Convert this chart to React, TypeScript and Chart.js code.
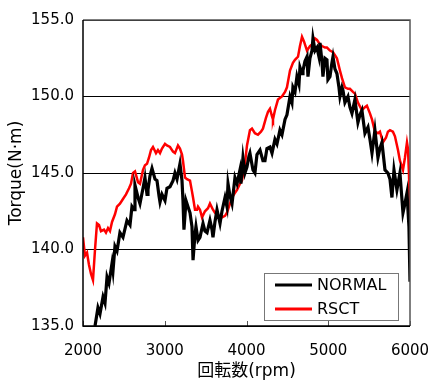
import React, { useEffect, useRef } from "react";
import { Chart, registerables } from "chart.js";

Chart.register(...registerables);

const xTicks = [2000, 3000, 4000, 5000, 6000];
const yTicks = [135, 140, 145, 150, 155];

const normalRpm = [
  2147, 2183, 2208, 2245, 2269, 2294, 2318, 2355, 2367, 2391, 2416, 2452, 2489, 2538, 2575, 2599, 2624, 2636, 2673, 2697,
  2734, 2758, 2783, 2795, 2819, 2844, 2881, 2905, 2930, 2942, 2966, 3003, 3027, 3064, 3101, 3125, 3150, 3186, 3211, 3223,
  3235, 3260, 3284, 3309, 3333, 3346, 3370, 3382, 3407, 3431, 3468, 3492, 3517, 3553, 3578, 3590, 3614, 3639, 3676, 3700,
  3737, 3761, 3774, 3798, 3823, 3859, 3884, 3920, 3932, 3957, 3981, 4006, 4030, 4042, 4079, 4103, 4128, 4165, 4201, 4226,
  4250, 4287, 4312, 4348, 4373, 4409, 4434, 4471, 4495, 4532, 4556, 4568, 4593, 4617, 4642, 4654, 4679, 4691, 4715, 4740,
  4752, 4776, 4801, 4813, 4838, 4862, 4886, 4899, 4923, 4935, 4960, 4984, 4996, 5021, 5045, 5058, 5082, 5106, 5131, 5143,
  5168, 5180, 5204, 5241, 5265, 5290, 5326, 5363, 5388, 5412, 5449, 5486, 5510, 5535, 5571, 5608, 5632, 5657, 5694, 5730,
  5755, 5779, 5804, 5840, 5877, 5914, 5938, 5963, 5987, 6000,
];
const normalTorque = [
  135.0, 136.2, 135.8, 136.9, 136.5, 138.2, 137.8, 139.1, 138.6, 140.2, 139.9, 141.1, 140.8, 141.9, 141.6, 142.8, 142.6, 144.2, 143.4, 143.0,
  144.0, 144.7, 143.6, 143.9, 144.8, 145.3, 144.6, 144.5, 143.5, 143.1, 143.6, 143.2, 144.0, 144.1, 144.5, 145.0, 144.6, 145.6, 144.5, 143.2,
  141.3, 143.2, 142.8, 142.4, 141.5, 139.3, 141.0, 141.5, 140.6, 140.8, 141.7, 141.2, 141.1, 141.9, 141.3, 140.8, 141.8, 142.6, 141.7, 142.5,
  143.4, 142.8, 144.3, 143.5, 143.0, 144.7, 144.3, 145.2, 144.3, 146.0, 145.0, 145.4, 146.1, 146.3, 145.2, 145.0, 146.2, 146.5, 145.8, 145.8,
  146.6, 146.7, 146.3, 147.2, 146.9, 147.8, 147.5, 148.5, 148.8, 150.0, 149.6, 150.6, 150.3, 151.3, 150.8, 151.9, 151.5, 151.7, 152.3, 152.6,
  151.3, 152.5, 153.0, 153.8, 153.0, 153.2, 152.6, 153.5, 152.3, 151.3, 152.5, 152.4, 151.1, 151.3, 152.2, 152.6, 151.8, 151.5, 150.6, 150.0,
  150.6, 150.4, 149.6, 150.0, 149.3, 148.9, 149.8, 148.3, 148.8, 149.1, 147.6, 148.0, 147.2, 146.3, 147.8, 146.0, 146.6, 147.0, 145.2, 145.0,
  144.6, 143.4, 145.2, 143.9, 145.0, 142.4, 143.0, 143.7, 141.5, 137.9,
];

const rsctRpm = [
  2000, 2024, 2049, 2073, 2098, 2122, 2147, 2171, 2196, 2220, 2257, 2281, 2306, 2330, 2355, 2391, 2416, 2452, 2489, 2526,
  2563, 2587, 2612, 2636, 2673, 2697, 2734, 2758, 2783, 2807, 2832, 2856, 2893, 2917, 2942, 2966, 3003, 3027, 3064, 3101,
  3125, 3162, 3186, 3211, 3223, 3248, 3272, 3309, 3333, 3346, 3370, 3395, 3407, 3431, 3456, 3492, 3529, 3553, 3590, 3614,
  3651, 3700, 3737, 3761, 3798, 3823, 3859, 3884, 3920, 3945, 3969, 3981, 4006, 4042, 4067, 4103, 4140, 4177, 4201, 4238,
  4263, 4287, 4312, 4324, 4348, 4385, 4434, 4471, 4495, 4532, 4568, 4593, 4630, 4654, 4679, 4703, 4740, 4776, 4801, 4838,
  4862, 4899, 4923, 4960, 4984, 5021, 5058, 5082, 5106, 5143, 5168, 5204, 5241, 5265, 5302, 5326, 5363, 5412, 5449, 5473,
  5510, 5535, 5571, 5608, 5632, 5669, 5706, 5730, 5755, 5791, 5816, 5853, 5877, 5914, 5938, 5963, 5975, 5987, 6000,
];
const rsctTorque = [
  140.8, 139.6, 139.8, 139.0, 138.4, 138.0, 140.0, 141.7, 141.6, 141.2, 141.3, 141.1, 141.4, 141.2, 141.8, 142.3, 142.8, 143.0, 143.3, 143.6,
  144.0, 144.3, 145.0, 145.1, 144.4, 144.3, 145.2, 145.5, 145.6, 146.0, 146.5, 146.7, 146.3, 146.5, 146.3, 146.6, 146.9, 146.8, 146.7, 146.4,
  146.3, 146.8, 146.6, 146.2, 145.8, 144.7, 144.6, 144.5, 143.8, 143.4, 142.6, 142.6, 142.8, 142.6, 142.1, 142.5, 142.7, 143.0, 142.6, 142.4,
  142.2, 142.1, 142.2, 142.4, 143.0, 143.4, 143.7, 143.9, 144.3, 144.5, 145.3, 145.6, 146.8, 147.8, 147.9, 147.6, 147.5, 147.7, 147.9, 148.6,
  149.0, 149.2, 148.7, 148.5, 149.1, 149.8, 150.0, 150.3, 150.6, 151.7, 152.2, 152.4, 152.6, 153.3, 153.9, 153.6, 153.0, 153.3, 153.4, 153.8,
  153.7, 153.4, 153.3, 153.2, 153.2, 153.0, 152.9, 152.7, 152.5, 151.7, 151.2, 150.6, 150.5, 150.5, 150.3, 150.2, 149.6, 149.1, 149.3, 149.4,
  148.9, 148.5, 147.7, 147.6, 147.7, 147.0, 147.3, 147.7, 147.8, 147.7, 147.4, 146.5, 145.8, 145.2, 146.0, 147.0, 146.6, 145.0, 142.0,
];

const seriesNames = ["NORMAL", "RSCT"];
const seriesColors = ["#000000", "#ff0000"];

const FONT = "'DejaVu Sans', 'Noto Sans CJK JP', Verdana, sans-serif";

const framePlugin = {
  id: "frameAndLegend",
  afterDraw(chart: any) {
    const { ctx, chartArea } = chart;
    const { left, right, top, bottom } = chartArea;
    ctx.save();
    const xs = chart.scales.x;
    ctx.strokeStyle = "#555";
    ctx.lineWidth = 1;
    xTicks.forEach((v) => {
      const px = Math.round(xs.getPixelForValue(v)) + 0.5;
      ctx.beginPath();
      ctx.moveTo(px, bottom);
      ctx.lineTo(px, bottom - 5);
      ctx.stroke();
    });
    ctx.strokeStyle = "#555";
    ctx.lineWidth = 1.5;
    ctx.beginPath();
    ctx.moveTo(left, top);
    ctx.lineTo(right, top);
    ctx.lineTo(right, bottom);
    ctx.stroke();
    ctx.strokeStyle = "#000";
    ctx.lineWidth = 1.5;
    ctx.beginPath();
    ctx.moveTo(left, top);
    ctx.lineTo(left, bottom);
    ctx.lineTo(right, bottom);
    ctx.stroke();

    const bx = right - 146;
    const by = bottom - 53;
    const bw = 134;
    const bh = 47;
    ctx.fillStyle = "#fff";
    ctx.fillRect(bx, by, bw, bh);
    ctx.strokeStyle = "#777";
    ctx.lineWidth = 1;
    ctx.strokeRect(Math.round(bx) + 0.5, Math.round(by) + 0.5, bw, bh);
    ctx.font = "16px " + FONT;
    ctx.textBaseline = "middle";
    ctx.textAlign = "left";
    seriesNames.forEach((name, i) => {
      const ly = by + 12 + i * 24;
      ctx.strokeStyle = seriesColors[i];
      ctx.lineWidth = 3;
      ctx.beginPath();
      ctx.moveTo(bx + 11, ly);
      ctx.lineTo(bx + 48, ly);
      ctx.stroke();
      ctx.fillStyle = "#000";
      ctx.fillText(name, bx + 53, ly + 1);
    });
    ctx.restore();
  },
};

export default function App() {
  const ref = useRef<HTMLCanvasElement | null>(null);
  useEffect(() => {
    document.body.style.margin = "0";
    const canvas = ref.current;
    if (!canvas) return;
    const chart = new Chart(canvas, {
      type: "line",
      data: {
        datasets: [
          {
            label: seriesNames[0],
            data: normalRpm.map((x, i) => ({ x, y: normalTorque[i] })),
            borderColor: seriesColors[0],
            backgroundColor: seriesColors[0],
            borderWidth: 3.2,
            pointRadius: 0,
            tension: 0,
          },
          {
            label: seriesNames[1],
            data: rsctRpm.map((x, i) => ({ x, y: rsctTorque[i] })),
            borderColor: seriesColors[1],
            backgroundColor: seriesColors[1],
            borderWidth: 2.5,
            pointRadius: 0,
            tension: 0,
          },
        ],
      },
      options: {
        responsive: false,
        animation: false,
        layout: { padding: { top: 20, right: 30, left: 0, bottom: 0 } },
        plugins: { legend: { display: false }, tooltip: { enabled: false } },
        scales: {
          x: {
            type: "linear",
            min: 2000,
            max: 6000,
            afterBuildTicks: (s: any) => {
              s.ticks = xTicks.map((v) => ({ value: v }));
            },
            afterFit: (s: any) => {
              s.height = 62;
            },
            grid: { display: false },
            border: { display: false },
            ticks: {
              color: "#000",
              font: { family: FONT, size: 15 },
              padding: 8,
              maxRotation: 0,
              autoSkip: false,
              callback: (v: any) => String(v),
            },
            title: {
              display: true,
              text: "回転数(rpm)",
              color: "#000",
              font: { family: FONT, size: 17 },
              padding: { top: 0, bottom: 6 },
            },
          },
          y: {
            type: "linear",
            min: 135,
            max: 155,
            afterBuildTicks: (s: any) => {
              s.ticks = yTicks.map((v) => ({ value: v }));
            },
            afterFit: (s: any) => {
              s.width = 83;
            },
            grid: { color: "#000", lineWidth: 1, drawTicks: false },
            border: { display: false },
            ticks: {
              color: "#000",
              font: { family: FONT, size: 15 },
              padding: 9,
              callback: (v: any) => Number(v).toFixed(1),
            },
            title: {
              display: true,
              text: "Torque(N·m)",
              color: "#000",
              font: { family: FONT, size: 17 },
              padding: { top: 6, bottom: 0 },
            },
          },
        },
      },
      plugins: [framePlugin],
    });
    return () => chart.destroy();
  }, []);
  return <canvas ref={ref} width={440} height={388} style={{ display: "block" }} />;
}
